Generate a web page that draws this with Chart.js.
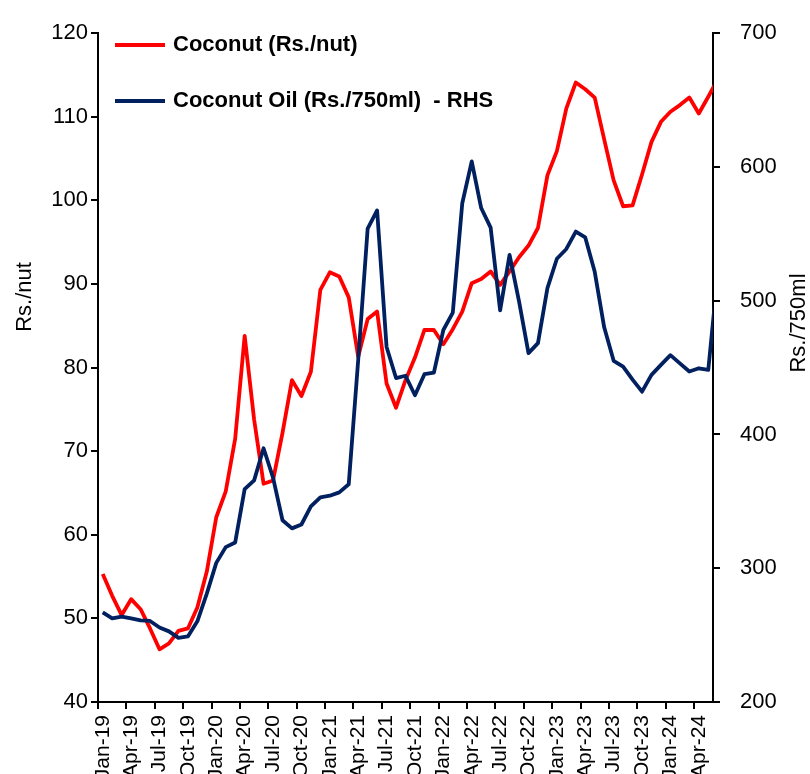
<!DOCTYPE html>
<html>
<head>
<meta charset="utf-8">
<script src="https://cdn.jsdelivr.net/npm/chart.js@4.4.1/dist/chart.umd.min.js"></script>
<style>
  html, body { margin: 0; padding: 0; background: #fff; }
</style>
</head>
<body>
<canvas id="chart" width="810" height="774"></canvas>
<script>
// monthly, Jan-19 .. Jun-24 (axis shows up to May-24, last point runs off the edge)
const months = [
  'Jan-19','Feb-19','Mar-19','Apr-19','May-19','Jun-19','Jul-19','Aug-19','Sep-19','Oct-19','Nov-19','Dec-19',
  'Jan-20','Feb-20','Mar-20','Apr-20','May-20','Jun-20','Jul-20','Aug-20','Sep-20','Oct-20','Nov-20','Dec-20',
  'Jan-21','Feb-21','Mar-21','Apr-21','May-21','Jun-21','Jul-21','Aug-21','Sep-21','Oct-21','Nov-21','Dec-21',
  'Jan-22','Feb-22','Mar-22','Apr-22','May-22','Jun-22','Jul-22','Aug-22','Sep-22','Oct-22','Nov-22','Dec-22',
  'Jan-23','Feb-23','Mar-23','Apr-23','May-23','Jun-23','Jul-23','Aug-23','Sep-23','Oct-23','Nov-23','Dec-23',
  'Jan-24','Feb-24','Mar-24','Apr-24','May-24','Jun-24'
]
const lastShown = 'May-24'

// Rs./nut (left axis)
const coconut = [
  55.3, 52.7, 50.4, 52.3, 51.1, 48.8, 46.3, 47.0, 48.5, 48.8, 51.3, 55.6,
  62.1, 65.2, 71.5, 83.8, 73.8, 66.1, 66.5, 72.2, 78.5, 76.6, 79.5, 89.3,
  91.4, 90.9, 88.4, 81.3, 85.8, 86.7, 78.1, 75.2, 78.5, 81.2, 84.5, 84.5,
  82.8, 84.6, 86.7, 90.1, 90.6, 91.5, 89.9, 91.5, 93.2, 94.6, 96.7, 103.0,
  105.9, 111.0, 114.1, 113.3, 112.3, 107.3, 102.4, 99.3, 99.4, 103.1, 107.0, 109.4,
  110.6, 111.4, 112.3, 110.4, 112.4, 114.5
]

// Rs./750ml (right axis)
const coconutOil = [
  267, 262.5, 263.8, 262.5, 261, 260.6, 255.7, 252.8, 247.9, 249, 260.3, 281,
  304, 315.8, 319.3, 359.1, 365.7, 389.7, 367.7, 335.9, 329.8, 332.7, 346.3, 353,
  354.2, 356.7, 362.8, 455.6, 553.9, 567.5, 465.4, 442.2, 443.9, 429.3, 445.1, 446.3,
  478.1, 491.1, 572.9, 604.2, 569.3, 554.6, 492.8, 534.3, 499.6, 460.8, 468.3, 509.4,
  531.4, 538.7, 551.7, 547.3, 521.6, 480.1, 455.1, 450.7, 441, 432, 444.6, 452,
  459.3, 453.2, 447.1, 449.5, 448.3, 520
]

const leftRange = [40, 120, 10]
const rightRange = [200, 700, 100]
const leftTitle = 'Rs./nut'
const rightTitle = 'Rs./750ml'

const FONT = '"Liberation Sans", Arial, sans-serif'
const tickFont = { family: FONT, size: 22 }

// legend + axis titles, placed like the original
const extras = {
  id: 'extras',
  afterDraw(chart) {
    const ctx = chart.ctx
    ctx.save()
    ctx.fillStyle = '#000'
    ctx.textAlign = 'center'
    ctx.textBaseline = 'middle'
    ctx.font = '22px ' + FONT

    ctx.save()
    ctx.translate(25, 297)
    ctx.rotate(-Math.PI / 2)
    ctx.fillText(leftTitle, 0, 0)
    ctx.restore()

    ctx.save()
    ctx.translate(799, 323)
    ctx.rotate(-Math.PI / 2)
    ctx.fillText(rightTitle, 0, 0)
    ctx.restore()

    ctx.font = 'bold 22px ' + FONT
    ctx.textAlign = 'left'
    let ys = [45, 101]
    chart.data.datasets.forEach((ds, i) => {
      ctx.strokeStyle = ds.borderColor
      ctx.lineWidth = ds.borderWidth
      ctx.beginPath()
      ctx.moveTo(115, ys[i])
      ctx.lineTo(165, ys[i])
      ctx.stroke()
      ctx.fillText(ds.label, 173, ys[i])
    })
    ctx.restore()
  }
}

let axisGrid = {
  drawOnChartArea: false,
  color: '#000',
  lineWidth: 2,
  tickLength: 7
}

new Chart(document.getElementById('chart'), {
  type: 'line',
  data: {
    labels: months,
    datasets: [
      {
        label: 'Coconut (Rs./nut)',
        data: coconut,
        yAxisID: 'y',
        borderColor: '#FF0000',
        backgroundColor: '#FF0000',
        borderWidth: 3.8,
        pointRadius: 0,
        borderJoinStyle: 'round',
        clip: 0,
        order: 1
      },
      {
        label: 'Coconut Oil (Rs./750ml)  - RHS',
        data: coconutOil,
        yAxisID: 'y2',
        borderColor: '#002060',
        backgroundColor: '#002060',
        borderWidth: 3.8,
        pointRadius: 0,
        borderJoinStyle: 'round',
        clip: 0,
        order: 0
      }
    ]
  },
  options: {
    responsive: false,
    animation: false,
    layout: { padding: { top: 20 } },
    plugins: {
      legend: { display: false },
      tooltip: { enabled: false }
    },
    scales: {
      x: {
        type: 'category',
        offset: true,
        // stop the axis at May-24 but keep the Jun-24 point so the line runs off the edge
        afterDataLimits: s => { s.max = months.indexOf(lastShown) },
        grid: {
          ...axisGrid,
          offset: true,
          color: c => (c.index % 3 === 0 ? '#000' : 'rgba(0,0,0,0)')
        },
        border: { color: '#000', width: 2 },
        ticks: {
          autoSkip: false,
          maxRotation: 90,
          minRotation: 90,
          padding: 6,
          color: '#000',
          font: { family: FONT, size: 21 },
          callback: function (v, i) {
            return i % 3 === 0 ? this.getLabelForValue(v) : ''
          }
        },
        afterFit: s => { s.height = 72 }
      },
      y: {
        position: 'left',
        min: leftRange[0],
        max: leftRange[1],
        grid: axisGrid,
        border: { color: '#000', width: 2 },
        ticks: { stepSize: leftRange[2], color: '#000', font: tickFont, padding: 3 },
        afterFit: s => { s.width = 98 }
      },
      y2: {
        position: 'right',
        min: rightRange[0],
        max: rightRange[1],
        grid: axisGrid,
        border: { color: '#000', width: 2 },
        ticks: { stepSize: rightRange[2], color: '#000', font: tickFont, padding: 20 },
        afterFit: s => { s.width = 97 }
      }
    }
  },
  plugins: [extras]
})
</script>
</body>
</html>
